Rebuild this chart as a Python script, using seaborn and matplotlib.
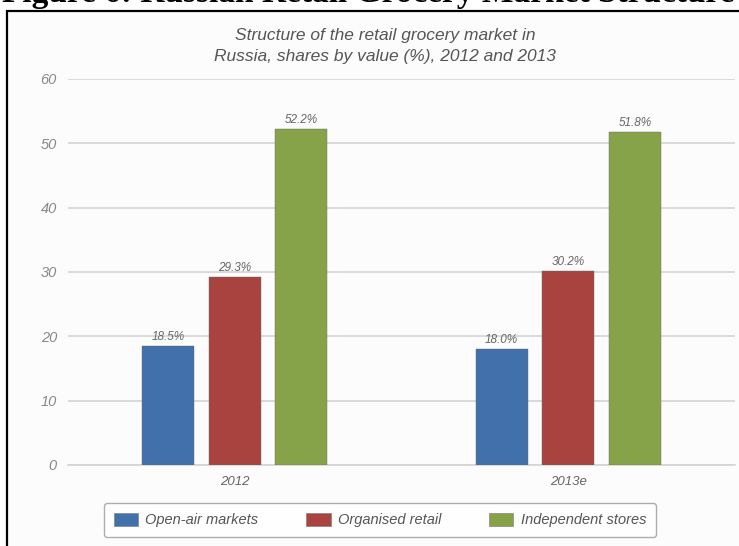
import matplotlib
matplotlib.use("Agg")
import matplotlib.pyplot as plt
import seaborn as sns
import pandas as pd
from matplotlib.patches import Rectangle, Patch

years = ["2012", "2013e"]
categories = ["Open-air markets", "Organised retail", "Independent stores"]
values_2012 = [18.5, 29.3, 52.2]
values_2013 = [18.0, 30.2, 51.8]
colors = ["#4270aa", "#a94340", "#86a34a"]
yticks = [0, 10, 20, 30, 40, 50, 60]
title = "Structure of the retail grocery market in\nRussia, shares by value (%), 2012 and 2013"
heading = "Figure 6: Russian Retail Grocery Market Structure"

rows = []
for y, vals in zip(years, [values_2012, values_2013]):
    for c, v in zip(categories, vals):
        rows.append({"year": y, "category": c, "value": v})
df = pd.DataFrame(rows)

sns.set_theme(style="white")
NARROW = ["Liberation Sans Narrow", "Liberation Sans", "DejaVu Sans"]
plt.rcParams["font.family"] = NARROW

fig = plt.figure(figsize=(7.39, 5.46), dpi=100)
fig.patch.set_facecolor("white")

# panel frame
panel = Rectangle((7 / 739, -0.05), 1.1, 1 - 11 / 546 + 0.05, transform=fig.transFigure,
                  facecolor="#fcfcfc", edgecolor="black", linewidth=1.6, zorder=-5)
fig.patches.append(panel)

fig.text(2 / 739, 1 - 2 / 546, heading, fontsize=24, fontweight="bold",
         family=["Liberation Serif", "DejaVu Serif"], va="baseline", ha="left", color="black")

ax = fig.add_axes([68 / 739, 1 - 465 / 546, (735 - 68) / 739, (465 - 79) / 546])
ax.set_facecolor("none")

sns.barplot(data=df, x="year", y="value", hue="category", palette=colors,
            width=0.6, gap=0.22, ax=ax, legend=False, saturation=1,
            edgecolor="#6a6a6a", linewidth=0.3, zorder=3)

ax.set_xlim(-0.5, 1.5)
ax.set_ylim(0, 60)
ax.set_yticks(yticks)
ax.set_yticklabels([str(t) for t in yticks], fontstyle="italic", color="#888888", fontsize=10.5)
ax.tick_params(axis="y", length=0, pad=8)
ax.set_xticks([0, 1])
ax.set_xticklabels(years, fontstyle="italic", color="#666666", fontsize=9.5)
ax.tick_params(axis="x", which="major", length=0, pad=8)
ax.set_xticks([0.5, 1.5], minor=True)
ax.tick_params(axis="x", which="minor", length=4, color="#cccccc", width=1, direction="out")
ax.grid(axis="y", color="#d4d4d4", linewidth=1.2, zorder=0)
ax.set_axisbelow(True)
for s in ["top", "right", "left"]:
    ax.spines[s].set_visible(False)
ax.spines["bottom"].set_color("#d4d4d4")
ax.spines["bottom"].set_linewidth(1.2)
ax.set_xlabel("")
ax.set_ylabel("")

for cont in ax.containers:
    ax.bar_label(cont, labels=[f"{v:.1f}%" for v in cont.datavalues], padding=2,
                 fontsize=8.5, fontstyle="italic", color="#666666")

fig.text(0.521, 1 - 46 / 546, title, ha="center", va="center", fontsize=12.5,
         fontstyle="italic", color="#555555", linespacing=1.5)

handles = [Patch(facecolor=c, edgecolor="#777777", linewidth=0.4) for c in colors]
leg = fig.legend(handles, categories, loc="center", bbox_to_anchor=(380 / 739, 1 - 520 / 546),
                 ncol=3, frameon=True, fancybox=True, edgecolor="#999999",
                 handlelength=1.65, handleheight=1.0, columnspacing=3.3, handletextpad=0.5,
                 borderpad=0.65, borderaxespad=0, prop={"style": "italic", "size": 10.5})
for t in leg.get_texts():
    t.set_color("#555555")
leg.get_frame().set_linewidth(1.0)

fig.savefig("out.png", dpi=100)
